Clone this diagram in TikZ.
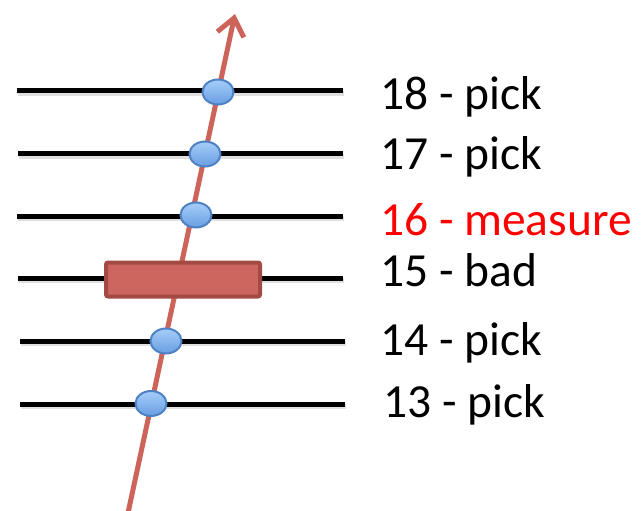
\documentclass[tikz,border=0pt]{standalone}
\usepackage{fontspec}
\setmainfont{Carlito}
\usetikzlibrary{arrows.meta,shapes.geometric}
\definecolor{arrowred}{RGB}{205,100,90}
\definecolor{rectfill}{RGB}{205,102,94}
\definecolor{rectborder}{RGB}{163,74,68}
\definecolor{elltop}{RGB}{165,205,248}
\definecolor{ellbot}{RGB}{105,158,226}
\definecolor{ellborder}{RGB}{78,128,196}
\tikzset{
  layer/.style={line width=5pt, black},
  layershadow/.style={line width=5pt, black!25, opacity=0.5},
  hitmark/.style={ellipse, draw=ellborder, line width=2pt, top color=elltop, bottom color=ellbot, minimum width=31pt, minimum height=25pt, inner sep=0pt},
  badbox/.style={rectangle, draw=rectborder, line width=4pt, fill=rectfill, rounded corners=2pt, minimum width=154pt, minimum height=34pt, inner sep=0pt},
  track/.style={line width=5pt, arrowred, -{Straight Barb[length=17pt, width=27pt, line width=5pt]}},
  lbl/.style={anchor=base west, inner sep=0pt, font=\fontsize{47.5}{57}\selectfont},
}
\begin{document}
\begin{tikzpicture}[x=1pt, y=-1pt]
\useasboundingbox (0,0) rectangle (641,511);
% layer end points
\foreach \n/\xa/\xb/\y in {18/17/343/91, 17/18/343/154, 16/17/343/216, 15/18/343/278, 14/20/345/341, 13/20/345/404}{
  \coordinate (L\n a) at (\xa,\y);
  \coordinate (L\n b) at (\xb,\y);
  \draw[layershadow] ([shift={(1,2.5)}]L\n a) -- ([shift={(1,2.5)}]L\n b);
  \draw[layer] (L\n a) -- (L\n b);
}
% track
\coordinate (tstart) at (128,513);
\coordinate (tend) at (235,14);
\draw[track] (tstart) -- (tend);
% hits
\node[hitmark] (h18) at (218,92) {};
\node[hitmark] (h17) at (205,154) {};
\node[hitmark] (h16) at (196,215) {};
\node[hitmark] (h14) at (166,341) {};
\node[hitmark] (h13) at (151,403.5) {};
% bad module
\node[badbox] (bad) at (183,279.5) {};
% labels
\node[lbl] (t18) at (380,110) {18 - pick};
\node[lbl] (t17) at (380,170) {17 - pick};
\node[lbl, text=red] (t16) at (380,235) {16 - measure};
\node[lbl] (t15) at (380,286) {15 - bad};
\node[lbl] (t14) at (380,355) {14 - pick};
\node[lbl] (t13) at (383,417) {13 - pick};
\end{tikzpicture}
\end{document}
